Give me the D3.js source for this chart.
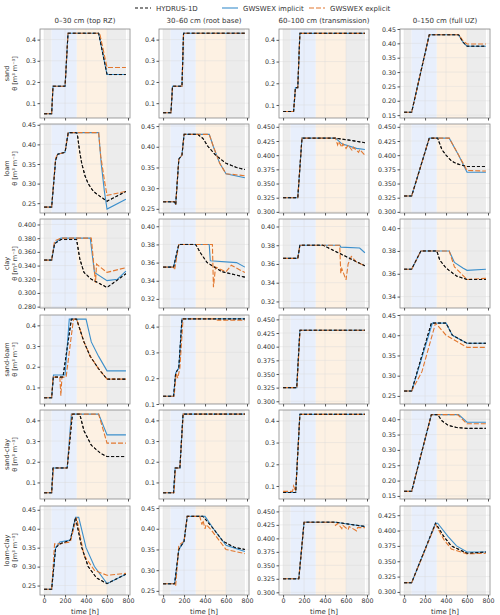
<!DOCTYPE html>
<html><head><meta charset="utf-8">
<script src="https://cdn.jsdelivr.net/npm/d3@7"></script>
<style>body{margin:0;background:#fff}text{font-family:"DejaVu Sans",sans-serif}</style>
</head><body>
<script>
// Panel labels
const columns = ['0\u201330 cm (top RZ)', '30\u201360 cm (root base)', '60\u2013100 cm (transmission)', '0\u2013150 cm (full UZ)'];
const soils = ['sand', 'loam', 'clay', 'sand-loam', 'sand-clay', 'loam-clay'];
const seriesNames = ['HYDRUS-1D', 'GWSWEX implicit', 'GWSWEX explicit'];
const timeTicks = [0, 200, 400, 600, 800];
const phases = [[0, 72, 'dry'], [72, 312, 'wet'], [312, 600, 'drain'], [600, 780, 'dry']];

// y ticks per soil row / column
const yTicks = {
  sand: [[.1,.2,.3,.4],[.1,.2,.3,.4],[.1,.2,.3,.4],[.15,.2,.25,.3,.35,.4,.45]],
  loam: [[.25,.3,.35,.4,.45],[.25,.3,.35,.4,.45],[.3,.325,.35,.375,.4,.425,.45],[.3,.325,.35,.375,.4,.425,.45]],
  clay: [[.28,.3,.32,.34,.36,.38,.4],[.32,.34,.36,.38,.4],[.32,.34,.36,.38,.4],[.34,.36,.38,.4]],
  'sand-loam': [[.1,.2,.3,.4],[.1,.2,.3,.4],[.3,.325,.35,.375,.4,.425,.45],[.25,.3,.35,.4,.45]],
  'sand-clay': [[.1,.2,.3,.4],[.1,.2,.3,.4],[.1,.2,.3,.4],[.15,.2,.25,.3,.35,.4]],
  'loam-clay': [[.25,.3,.35,.4,.45],[.25,.3,.35,.4,.45],[.3,.325,.35,.375,.4,.425,.45],[.3,.325,.35,.375,.4,.425]]
};
const yDomains = {
  sand: [[.03,.45],[.03,.45],[.04,.45],[.14,.45]],
  loam: [[.225,.452],[.24,.455],[.298,.455],[.298,.455]],
  clay: [[.278,.408],[.31,.408],[.313,.408],[.33,.408]],
  'sand-loam': [[.02,.45],[.1,.445],[.295,.458],[.23,.45]],
  'sand-clay': [[.02,.45],[.02,.45],[.04,.45],[.14,.43]],
  'loam-clay': [[.225,.46],[.24,.455],[.295,.46],[.295,.44]]
};

// theta series as [time h, theta] points, per column
const sandHydrus = [
  [[0,.05],[72,.05],[85,.18],[200,.18],[228,.43],[520,.43],[600,.235],[780,.235]],
  [[0,.055],[75,.055],[90,.18],[180,.18],[195,.43],[780,.43]],
  [[0,.07],[100,.07],[118,.18],[140,.18],[160,.43],[780,.43]],
  [[0,.16],[72,.16],[240,.43],[520,.43],[560,.405],[600,.39],[780,.39]]];
const sandImplicit = sandHydrus;
const sandExplicit = [
  [[0,.05],[72,.05],[85,.18],[200,.18],[228,.43],[530,.43],[600,.268],[780,.268]],
  [[0,.055],[75,.055],[90,.18],[180,.18],[195,.43],[780,.43]],
  [[0,.07],[100,.07],[118,.18],[140,.18],[160,.43],[780,.43]],
  [[0,.16],[72,.16],[240,.43],[520,.43],[560,.41],[600,.398],[780,.398]]];

const loamHydrus = [
  [[0,.24],[72,.24],[110,.36],[130,.375],[200,.38],[230,.43],[310,.43],[320,.42],[340,.38],[360,.35],[390,.32],[420,.30],[470,.28],[520,.27],[600,.255],[780,.28]],
  [[0,.267],[110,.267],[120,.26],[150,.37],[180,.38],[200,.43],[330,.43],[380,.42],[430,.40],[500,.38],[600,.36],[700,.35],[780,.345]],
  [[0,.325],[140,.325],[180,.43],[500,.43],[650,.426],[780,.422]],
  [[0,.328],[72,.328],[240,.43],[320,.43],[360,.41],[400,.40],[450,.39],[500,.385],[600,.38],[780,.38]]];
const loamImplicit = [
  [[0,.24],[72,.24],[110,.36],[130,.375],[200,.38],[230,.43],[520,.43],[545,.35],[575,.28],[600,.235],[780,.26]],
  [[0,.267],[110,.267],[120,.26],[150,.37],[180,.38],[200,.43],[440,.43],[480,.40],[540,.36],[600,.335],[780,.325]],
  [[0,.325],[140,.325],[180,.43],[500,.43],[560,.42],[700,.412],[780,.41]],
  [[0,.328],[72,.328],[240,.43],[430,.43],[520,.40],[600,.37],[780,.37]]];
const loamExplicit = [
  [[0,.24],[72,.24],[110,.365],[130,.375],[200,.38],[230,.43],[520,.43],[540,.37],[580,.30],[600,.27],[780,.28]],
  [[0,.267],[110,.267],[120,.26],[150,.37],[180,.38],[200,.43],[440,.43],[480,.40],[540,.36],[600,.335],[780,.33]],
  [[0,.325],[140,.325],[180,.43],[500,.43],[520,.418],[530,.424],[560,.414],[570,.42],[600,.412],[620,.418],[660,.408],[670,.414],[720,.405],[730,.41],[780,.40]],
  [[0,.328],[72,.328],[240,.43],[430,.43],[520,.40],[600,.373],[780,.372]]];

const clayHydrus = [
  [[0,.348],[72,.348],[100,.372],[160,.378],[310,.378],[340,.35],[380,.33],[450,.32],[600,.308],[780,.328]],
  [[0,.355],[100,.355],[150,.38],[310,.38],[360,.37],[420,.36],[560,.35],[780,.344]],
  [[0,.366],[140,.366],[160,.38],[380,.38],[780,.358]],
  [[0,.364],[72,.364],[160,.38],[312,.38],[340,.372],[400,.365],[500,.358],[600,.355],[780,.355]]];
const clayImplicit = [
  [[0,.348],[72,.348],[100,.372],[160,.38],[440,.38],[480,.33],[600,.318],[700,.32],[780,.332]],
  [[0,.355],[100,.355],[150,.38],[440,.38],[450,.362],[700,.36],[780,.355]],
  [[0,.366],[140,.366],[160,.38],[540,.38],[550,.378],[730,.377],[780,.372]],
  [[0,.364],[72,.364],[160,.38],[430,.38],[480,.37],[560,.365],[600,.363],[780,.364]]];
const clayExplicit = [
  [[0,.348],[72,.348],[100,.376],[160,.38],[450,.38],[490,.315],[500,.342],[600,.33],[780,.337]],
  [[0,.355],[100,.355],[110,.352],[150,.38],[470,.38],[480,.333],[500,.355],[600,.35],[650,.357],[780,.349]],
  [[0,.366],[140,.366],[160,.38],[540,.38],[550,.35],[560,.355],[600,.343],[620,.36],[650,.368],[700,.362],[780,.358]],
  [[0,.364],[72,.364],[160,.38],[430,.38],[480,.366],[600,.355],[780,.356]]];

const sandLoamHydrus = [
  [[0,.05],[72,.05],[88,.15],[180,.15],[260,.43],[310,.43],[380,.32],[440,.25],[520,.19],[600,.14],[780,.14]],
  [[0,.13],[100,.13],[120,.22],[150,.24],[180,.43],[780,.43]],
  [[0,.325],[130,.325],[160,.43],[780,.43]],
  [[0,.262],[72,.262],[260,.43],[400,.43],[460,.40],[600,.38],[780,.38]]];
const sandLoamImplicit = [
  [[0,.05],[72,.05],[90,.16],[200,.16],[240,.43],[400,.43],[450,.32],[520,.25],[600,.18],[780,.18]],
  [[0,.13],[100,.13],[120,.22],[150,.24],[180,.43],[780,.43]],
  [[0,.325],[130,.325],[160,.43],[780,.43]],
  [[0,.262],[72,.262],[270,.43],[400,.43],[460,.40],[600,.38],[780,.38]]];
const sandLoamExplicit = [
  [[0,.05],[72,.05],[85,.15],[150,.15],[160,.06],[170,.15],[210,.15],[280,.43],[310,.43],[380,.32],[440,.25],[520,.19],[600,.14],[780,.14]],
  [[0,.13],[105,.13],[125,.22],[140,.20],[160,.24],[190,.43],[500,.43],[520,.425],[780,.425]],
  [[0,.325],[132,.325],[162,.43],[780,.43]],
  [[0,.262],[72,.262],[170,.31],[300,.43],[400,.40],[500,.385],[600,.37],[780,.37]]];

const sandClayHydrus = [
  [[0,.05],[72,.05],[85,.17],[220,.17],[270,.43],[340,.43],[380,.35],[450,.28],[540,.24],[600,.225],[780,.225]],
  [[0,.05],[100,.05],[115,.17],[160,.17],[190,.43],[780,.43]],
  [[0,.07],[120,.07],[160,.43],[780,.43]],
  [[0,.165],[72,.165],[260,.415],[320,.415],[360,.395],[420,.38],[500,.373],[600,.37],[780,.37]]];
const sandClayImplicit = [
  [[0,.05],[72,.05],[85,.17],[220,.17],[260,.43],[520,.43],[600,.33],[780,.33]],
  [[0,.05],[100,.05],[115,.17],[160,.17],[190,.43],[780,.43]],
  [[0,.07],[120,.07],[160,.43],[780,.43]],
  [[0,.165],[72,.165],[260,.415],[520,.415],[600,.39],[780,.39]]];
const sandClayExplicit = [
  [[0,.05],[72,.05],[90,.17],[220,.17],[265,.43],[520,.43],[600,.29],[780,.29]],
  [[0,.05],[105,.05],[118,.17],[160,.17],[192,.43],[780,.43]],
  [[0,.075],[90,.075],[100,.10],[120,.075],[160,.43],[780,.43]],
  [[0,.165],[72,.165],[260,.415],[510,.415],[600,.385],[780,.385]]];

const loamClayHydrus = [
  [[0,.24],[72,.24],[110,.35],[150,.36],[250,.37],[300,.43],[360,.35],[420,.30],[500,.27],[600,.255],[780,.28]],
  [[0,.267],[110,.267],[150,.35],[200,.37],[230,.43],[380,.43],[480,.40],[570,.37],[680,.355],[780,.35]],
  [[0,.325],[150,.325],[200,.43],[500,.43],[780,.422]],
  [[0,.315],[72,.315],[300,.412],[380,.39],[450,.375],[600,.363],[780,.365]]];
const loamClayImplicit = [
  [[0,.24],[72,.24],[110,.35],[150,.365],[250,.37],[300,.43],[330,.43],[400,.35],[480,.30],[600,.255],[780,.28]],
  [[0,.267],[110,.267],[150,.35],[200,.37],[230,.43],[400,.43],[480,.40],[600,.36],[780,.345]],
  [[0,.325],[150,.325],[200,.43],[500,.43],[780,.422]],
  [[0,.315],[72,.315],[300,.412],[320,.412],[420,.39],[500,.375],[600,.365],[780,.365]]];
const loamClayExplicit = [
  [[0,.24],[72,.24],[100,.36],[150,.36],[250,.365],[310,.43],[380,.33],[480,.29],[600,.277],[780,.282]],
  [[0,.267],[110,.267],[120,.262],[150,.36],[200,.37],[230,.43],[350,.43],[370,.41],[380,.42],[400,.40],[410,.41],[450,.40],[600,.35],[780,.34]],
  [[0,.325],[150,.325],[200,.43],[480,.43],[500,.424],[520,.428],[560,.418],[570,.424],[620,.416],[630,.422],[700,.414],[710,.42],[780,.42]],
  [[0,.315],[72,.315],[300,.41],[380,.385],[450,.37],[600,.362],[780,.363]]];

const rowSeries = {
  sand: [sandHydrus, sandImplicit, sandExplicit],
  loam: [loamHydrus, loamImplicit, loamExplicit],
  clay: [clayHydrus, clayImplicit, clayExplicit],
  'sand-loam': [sandLoamHydrus, sandLoamImplicit, sandLoamExplicit],
  'sand-clay': [sandClayHydrus, sandClayImplicit, sandClayExplicit],
  'loam-clay': [loamClayHydrus, loamClayImplicit, loamClayExplicit]
};

const W = 500, H = 615;
const colX = [40, 159, 279, 400], pw = 90;
const rowY = [29, 124, 219, 315, 410, 506], ph = 89;
const phaseColor = { dry: '#ececec', wet: '#e8effc', drain: '#fdf1e3' };
const styles = [
  { color: '#111', dash: '3,2', width: 1.1 },
  { color: '#3b8fcc', dash: null, width: 1.1 },
  { color: '#e2772e', dash: '5,2', width: 1.1 }
];
const x = d3.scaleLinear().domain([-39, 819]).range([0, pw]);

const svg = d3.select('body').append('svg').attr('width', W).attr('height', H);

// legend
const leg = svg.append('g').attr('transform', 'translate(135,8)');
seriesNames.forEach((n, i) => {
  const g = leg.append('g').attr('transform', `translate(${i * 87},0)`);
  g.append('line').attr('x1', 0).attr('x2', 16).attr('stroke', styles[i].color)
    .attr('stroke-width', 1.1).attr('stroke-dasharray', styles[i].dash);
  g.append('text').attr('x', 21).attr('y', 2.5).attr('font-size', 7).attr('fill', '#333').text(n);
});

columns.forEach((c, j) => {
  svg.append('text').attr('x', colX[j] + pw / 2).attr('y', 23).attr('text-anchor', 'middle')
    .attr('font-size', 7).attr('fill', '#333').text(c);
});

soils.forEach((soil, i) => {
  const lab = svg.append('text').attr('transform', `translate(9,${rowY[i] + ph / 2}) rotate(-90)`)
    .attr('text-anchor', 'middle').attr('font-size', 6.5).attr('fill', '#333');
  lab.append('tspan').attr('x', 0).attr('dy', 0).text(soil);
  lab.append('tspan').attr('x', 0).attr('dy', 8).text('\u03b8 [m\u00b3 m\u207b\u00b3]');

  columns.forEach((c, j) => {
    const g = svg.append('g').attr('transform', `translate(${colX[j]},${rowY[i]})`);
    const y = d3.scaleLinear().domain(yDomains[soil][j]).range([ph, 0]);
    const ticks = yTicks[soil][j];
    const dec = ticks.some(t => Math.round(t * 100) !== t * 100) ? 3 : (ticks.some(t => Math.round(t * 10) !== t * 10) ? 2 : 1);

    g.append('defs').append('clipPath').attr('id', `c${i}${j}`)
      .append('rect').attr('width', pw).attr('height', ph);
    const inner = g.append('g').attr('clip-path', `url(#c${i}${j})`);
    phases.forEach(p => {
      inner.append('rect').attr('x', x(p[0])).attr('width', x(p[1]) - x(p[0]))
        .attr('y', 0).attr('height', ph).attr('fill', phaseColor[p[2]]);
    });
    // grid
    inner.selectAll('.gx').data(timeTicks).join('line').attr('x1', d => x(d)).attr('x2', d => x(d))
      .attr('y1', 0).attr('y2', ph).attr('stroke', '#d8d8d8').attr('stroke-width', 0.4);
    inner.selectAll('.gy').data(ticks).join('line').attr('y1', d => y(d)).attr('y2', d => y(d))
      .attr('x1', 0).attr('x2', pw).attr('stroke', '#d8d8d8').attr('stroke-width', 0.4);

    const line = d3.line().x(d => x(d[0])).y(d => y(d[1]));
    [0, 1, 2].forEach(k => {
      inner.append('path').datum(rowSeries[soil][k][j]).attr('d', line).attr('fill', 'none')
        .attr('stroke', styles[k].color).attr('stroke-width', styles[k].width)
        .attr('stroke-dasharray', styles[k].dash);
    });
    // redraw hydrus on top of implicit
    inner.append('path').datum(rowSeries[soil][0][j]).attr('d', line).attr('fill', 'none')
      .attr('stroke', styles[0].color).attr('stroke-width', 1).attr('stroke-dasharray', styles[0].dash);

    g.append('rect').attr('width', pw).attr('height', ph).attr('fill', 'none').attr('stroke', '#888').attr('stroke-width', 0.8);

    const ya = g.append('g').call(d3.axisLeft(y).tickValues(ticks).tickSize(2.5).tickPadding(1.5).tickFormat(d3.format(`.${dec}f`)));
    const xa = g.append('g').attr('transform', `translate(0,${ph})`)
      .call(d3.axisBottom(x).tickValues(timeTicks).tickSize(2.5).tickPadding(1.5).tickFormat(i === 5 ? d3.format('d') : ''));
    [ya, xa].forEach(a => {
      a.select('.domain').remove();
      a.selectAll('line').attr('stroke', '#555');
      a.selectAll('text').attr('font-size', 6.3).attr('fill', '#333');
    });
    if (i === 5) {
      g.append('text').attr('x', pw / 2).attr('y', ph + 18.5).attr('text-anchor', 'middle')
        .attr('font-size', 7).attr('fill', '#333').text('time [h]');
    }
  });
});
</script>
</body></html>
